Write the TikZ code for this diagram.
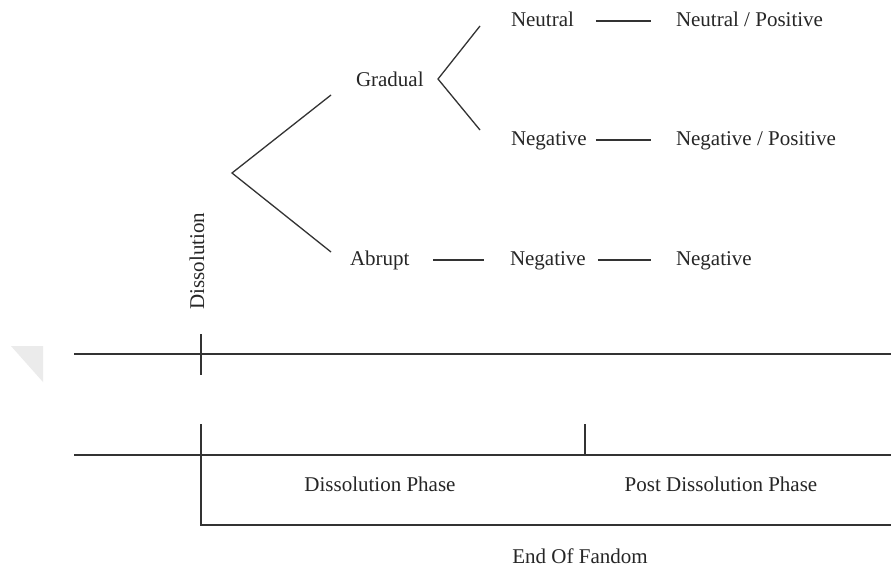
\documentclass[tikz,border=0pt]{standalone}
\usepackage{fontspec}
\setmainfont{Liberation Serif}
\begin{document}
\begin{tikzpicture}[x=1pt,y=-1pt,
  lbl/.style={inner sep=0pt,outer sep=0pt,font=\fontsize{21}{24}\selectfont,text height=14pt,text depth=4pt,text=black!85},
  ln/.style={line width=1.3pt,draw=black!80}]
\useasboundingbox[fill=white] (0,0) rectangle (891,571);
% faint mark on the left
\fill[black!8] (11,346) -- (43,346) -- (43,382) -- cycle;
% labels
\node[lbl,anchor=west] (neu) at (511,21) {Neutral};
\node[lbl,anchor=west] (neupos) at (676,21) {Neutral / Positive};
\node[lbl,anchor=west] (grad) at (356,81) {Gradual};
\node[lbl,anchor=west] (neg1) at (511,140) {Negative};
\node[lbl,anchor=west] (negpos) at (676,140) {Negative / Positive};
\node[lbl,anchor=west] (abr) at (350,260) {Abrupt};
\node[lbl,anchor=west] (neg2) at (510,260) {Negative};
\node[lbl,anchor=west] (neg3) at (676,260) {Negative};
\node[lbl,rotate=90] (diss) at (199,261) {Dissolution};
\node[lbl] (dp) at (380,486) {Dissolution Phase};
\node[lbl] (pdp) at (721,486) {Post Dissolution Phase};
\node[lbl] (eof) at (580,558) {End Of Fandom};
% connectors
\draw[ln,shorten <=22pt,shorten >=25pt] (neu.east) -- (neupos.west);
\draw[ln,shorten <=9pt,shorten >=25pt] (neg1.east) -- (negpos.west);
\draw[ln,shorten <=24pt,shorten >=26pt] (abr.east) -- (neg2.west);
\draw[ln,shorten <=12pt,shorten >=25pt] (neg2.east) -- (neg3.west);
% brackets
\coordinate (gtop) at (480,26);
\coordinate (gv) at (438,79);
\coordinate (gbot) at (480,130);
\draw[ln] (gtop) -- (gv) -- (gbot);
\coordinate (btop) at (331,95);
\coordinate (bv) at (232,173);
\coordinate (bbot) at (331,252);
\draw[ln] (btop) -- (bv) -- (bbot);
% timelines
\coordinate (t1l) at (74,354);
\coordinate (t1r) at (891,354);
\coordinate (k1a) at (201,334);
\coordinate (k1b) at (201,375);
\draw[ln] (t1l) -- (t1r);
\draw[ln] (k1a) -- (k1b);
\coordinate (t2l) at (74,455);
\coordinate (t2r) at (891,455);
\coordinate (v2a) at (201,424);
\coordinate (v2b) at (201,525);
\coordinate (v2c) at (891,525);
\coordinate (k2a) at (585,424);
\coordinate (k2b) at (585,455);
\draw[ln] (t2l) -- (t2r);
\draw[ln] (v2a) -- (v2b) -- (v2c);
\draw[ln] (k2a) -- (k2b);
\end{tikzpicture}
\end{document}
